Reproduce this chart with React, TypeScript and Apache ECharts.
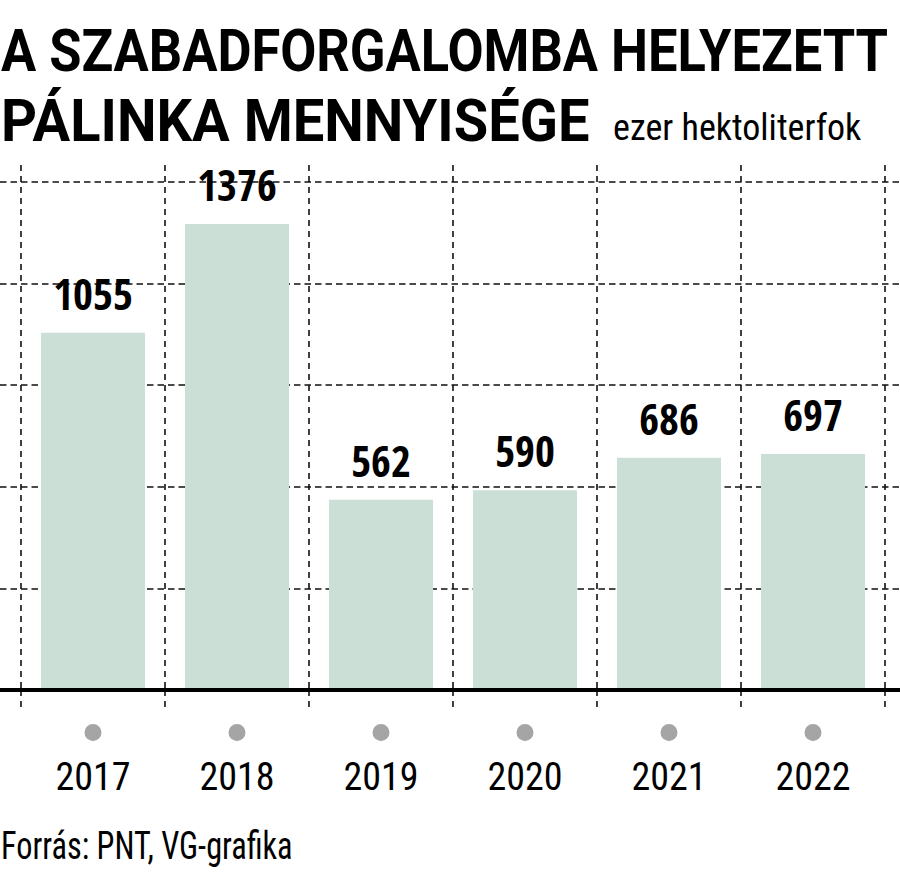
import React, { useEffect, useRef } from "react";
import * as echarts from "echarts";

const categories = ["2017", "2018", "2019", "2020", "2021", "2022"];
const values = [1055, 1376, 562, 590, 686, 697];
const titleLine1 = "A SZABADFORGALOMBA HELYEZETT";
const titleLine2 = "PÁLINKA MENNYISÉGE";
const unitText = "ezer hektoliterfok";
const sourceText = "Forrás: PNT, VG-grafika";

const COND_BOLD = "'Open Sans Condensed', 'Roboto Condensed', sans-serif";
const COND = "'Roboto Condensed', sans-serif";
const TITLE_FONT = "Roboto, 'Open Sans', sans-serif";
const GRID_COLOR = "#111";

export default function App() {
  const ref = useRef<HTMLDivElement>(null);
  useEffect(() => {
    const chart = echarts.init(ref.current!, null, { renderer: "svg" });
    chart.setOption({
      animation: false,
      backgroundColor: "#ffffff",
      graphic: [
        {
          type: "text",
          x: 1,
          y: 51,
          scaleX: 0.888,
          style: { text: titleLine1, font: `bold 59px ${TITLE_FONT}`, fill: "#000", verticalAlign: "middle" },
        },
        {
          type: "text",
          x: 1,
          y: 121,
          scaleX: 0.95,
          style: { text: titleLine2, font: `bold 59px ${TITLE_FONT}`, fill: "#000", verticalAlign: "middle" },
        },
        {
          type: "text",
          x: 613,
          y: 128,
          style: { text: unitText, font: `normal 36px ${COND}`, fill: "#000", verticalAlign: "middle" },
        },
        {
          type: "text",
          x: 1,
          y: 846,
          scaleX: 0.85,
          style: { text: sourceText, font: `normal 38px ${COND}`, fill: "#000", verticalAlign: "middle" },
        },
      ],
      grid: [
        { left: 21, right: 15, top: 165, bottom: 192 },
        { left: 0, right: 0, top: 182, bottom: 192 },
      ],
      xAxis: [
        {
          gridIndex: 0,
          type: "category",
          data: categories,
          boundaryGap: true,
          axisLine: { show: false },
          axisTick: { show: true, length: 20, lineStyle: { color: GRID_COLOR, width: 1.6, type: [6, 5] } },
          splitLine: { show: true, lineStyle: { color: GRID_COLOR, width: 1.6, type: [6, 5] } },
          axisLabel: {
            margin: 34,
            formatter: (v: string) => `{dot| }\n{yr|${v}}`,
            rich: {
              dot: { width: 17, height: 17, borderRadius: 8.5, backgroundColor: "#a5a5a5", lineHeight: 17 },
              yr: { fontFamily: COND, fontSize: 38, color: "#000", lineHeight: 72, align: "center" },
            },
          },
        },
        {
          gridIndex: 1,
          type: "value",
          min: 0,
          max: 1,
          z: 5,
          axisLine: { show: true, onZero: false, lineStyle: { color: "#000", width: 4 } },
          axisTick: { show: false },
          axisLabel: { show: false },
          splitLine: { show: false },
        },
      ],
      yAxis: [
        { gridIndex: 0, type: "value", min: 0, max: 1550, show: false },
        {
          gridIndex: 1,
          type: "value",
          min: 0,
          max: 1500,
          interval: 300,
          axisLine: { show: false },
          axisTick: { show: false },
          axisLabel: { show: false },
          splitLine: { show: true, lineStyle: { color: GRID_COLOR, width: 1.6, type: [6.5, 4] } },
        },
      ],
      series: [
        {
          type: "bar",
          xAxisIndex: 0,
          yAxisIndex: 0,
          data: values,
          barWidth: 104,
          itemStyle: { color: "#cbdfd7" },
          label: {
            show: true,
            position: "top",
            distance: 18,
            fontFamily: COND_BOLD,
            fontWeight: "bold",
            fontSize: 43,
            color: "#000",
          },
        },
      ],
    });
    return () => chart.dispose();
  }, []);
  return <div ref={ref} style={{ position: "fixed", left: 0, top: 0, width: 900, height: 882 }} />;
}
